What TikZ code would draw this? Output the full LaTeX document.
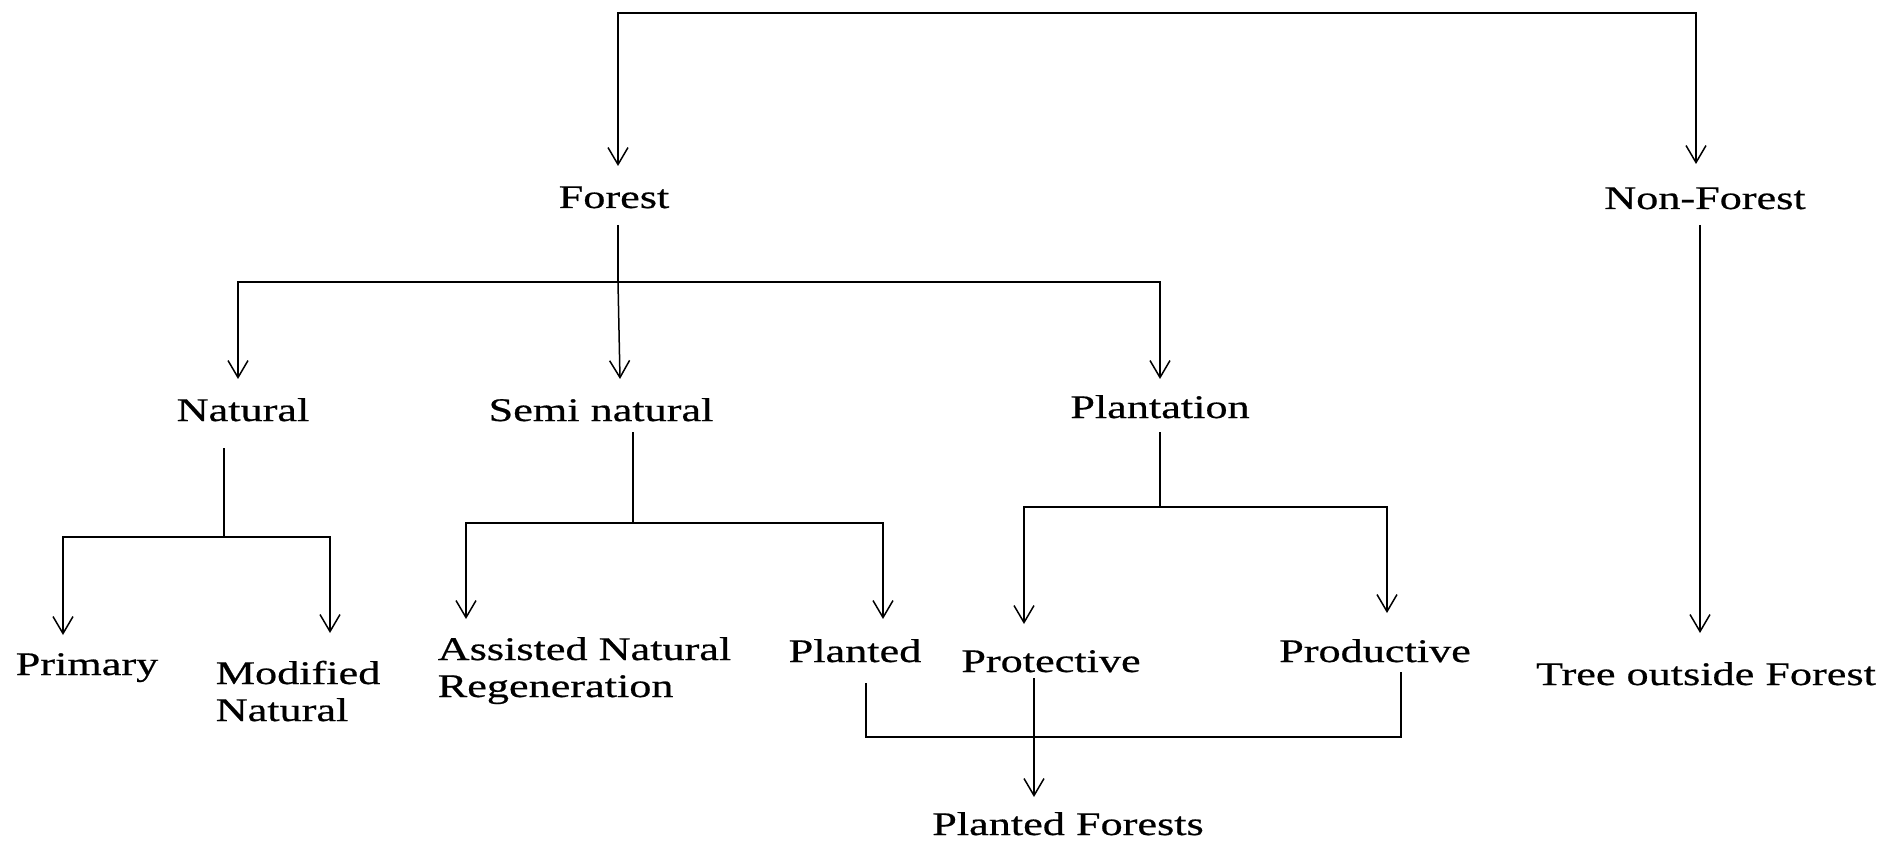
\documentclass[tikz,border=0pt]{standalone}
\usepackage{fontspec}
\setmainfont{Liberation Serif}[FakeStretch=1.34,FakeBold=0.6]
\usetikzlibrary{arrows.meta}
\begin{document}
\begin{tikzpicture}[x=1pt,y=-1pt,
  line width=1.5pt,
  lbl/.style={inner sep=0pt, font=\fontsize{33}{37}\selectfont},
  arr/.style={-{Straight Barb[length=17pt,width=20pt]}},
  arrb/.style={{Straight Barb[length=17pt,width=20pt]}-{Straight Barb[length=17pt,width=20pt]}}]
\useasboundingbox (0,0) rectangle (1883,842);
% nodes
\node[lbl, anchor=base] (forest) at (614,208) {Forest};
\node[lbl, anchor=base] (nonforest) at (1705,209) {Non-Forest};
\node[lbl, anchor=base] (natural) at (243,421) {Natural};
\node[lbl, anchor=base] (semi) at (601,421) {Semi natural};
\node[lbl, anchor=base] (plantation) at (1160,418) {Plantation};
\node[lbl, anchor=base] (primary) at (87,675) {Primary};
\node[lbl, anchor=base west, align=left] (modified) at (215,721) {Modified\\Natural};
\node[lbl, anchor=base west, align=left] (anr) at (437,697) {Assisted Natural\\Regeneration};
\node[lbl, anchor=base] (planted) at (855,662) {Planted};
\node[lbl, anchor=base] (protective) at (1051,672) {Protective};
\node[lbl, anchor=base] (productive) at (1375,662) {Productive};
\node[lbl, anchor=base] (tof) at (1706,685) {Tree outside Forest};
\node[lbl, anchor=base] (pf) at (1068,835) {Planted Forests};
% junction coordinates
\coordinate (forestTip) at (618,166);
\coordinate (nonTip) at (1696,164);
\coordinate (topL) at (618,13);
\coordinate (topR) at (1696,13);
\coordinate (forestBot) at (618,225);
\coordinate (forestJ) at (618,282);
\coordinate (barL) at (238,282);
\coordinate (barR) at (1160,282);
\coordinate (naturalTip) at (238,379);
\coordinate (semiTip) at (620,379);
\coordinate (plantTip) at (1160,379);
\coordinate (nonBot) at (1700,225);
\coordinate (tofTip) at (1700,633);
\coordinate (natBot) at (224,448);
\coordinate (natJ) at (224,537);
\coordinate (natL) at (63,537);
\coordinate (natR) at (330,537);
\coordinate (primTip) at (63,635);
\coordinate (modTip) at (330,633);
\coordinate (semiBot) at (633,432);
\coordinate (semiJ) at (633,523);
\coordinate (semiL) at (466,523);
\coordinate (semiR) at (883,523);
\coordinate (anrTip) at (466,619);
\coordinate (plantedTip) at (883,619);
\coordinate (plBot) at (1160,432);
\coordinate (plJ) at (1160,507);
\coordinate (plL) at (1024,507);
\coordinate (plR) at (1387,507);
\coordinate (protTip) at (1024,624);
\coordinate (prodTip) at (1387,613);
\coordinate (plantedBot) at (866,683);
\coordinate (pfL) at (866,737);
\coordinate (pfR) at (1401,737);
\coordinate (prodBot) at (1401,672);
\coordinate (protBot) at (1034,678);
\coordinate (pfTip) at (1034,797);
% connectors
\draw[arrb] (forestTip) -- (topL) -- (topR) -- (nonTip);
\draw (forestBot) -- (forestJ);
\draw[arrb] (naturalTip) -- (barL) -- (barR) -- (plantTip);
\draw[arr] (forestJ) -- (semiTip);
\draw[arr] (nonBot) -- (tofTip);
\draw (natBot) -- (natJ);
\draw[arrb] (primTip) -- (natL) -- (natR) -- (modTip);
\draw (semiBot) -- (semiJ);
\draw[arrb] (anrTip) -- (semiL) -- (semiR) -- (plantedTip);
\draw (plBot) -- (plJ);
\draw[arrb] (protTip) -- (plL) -- (plR) -- (prodTip);
\draw (plantedBot) -- (pfL) -- (pfR) -- (prodBot);
\draw[arr] (protBot) -- (pfTip);
\end{tikzpicture}
\end{document}
